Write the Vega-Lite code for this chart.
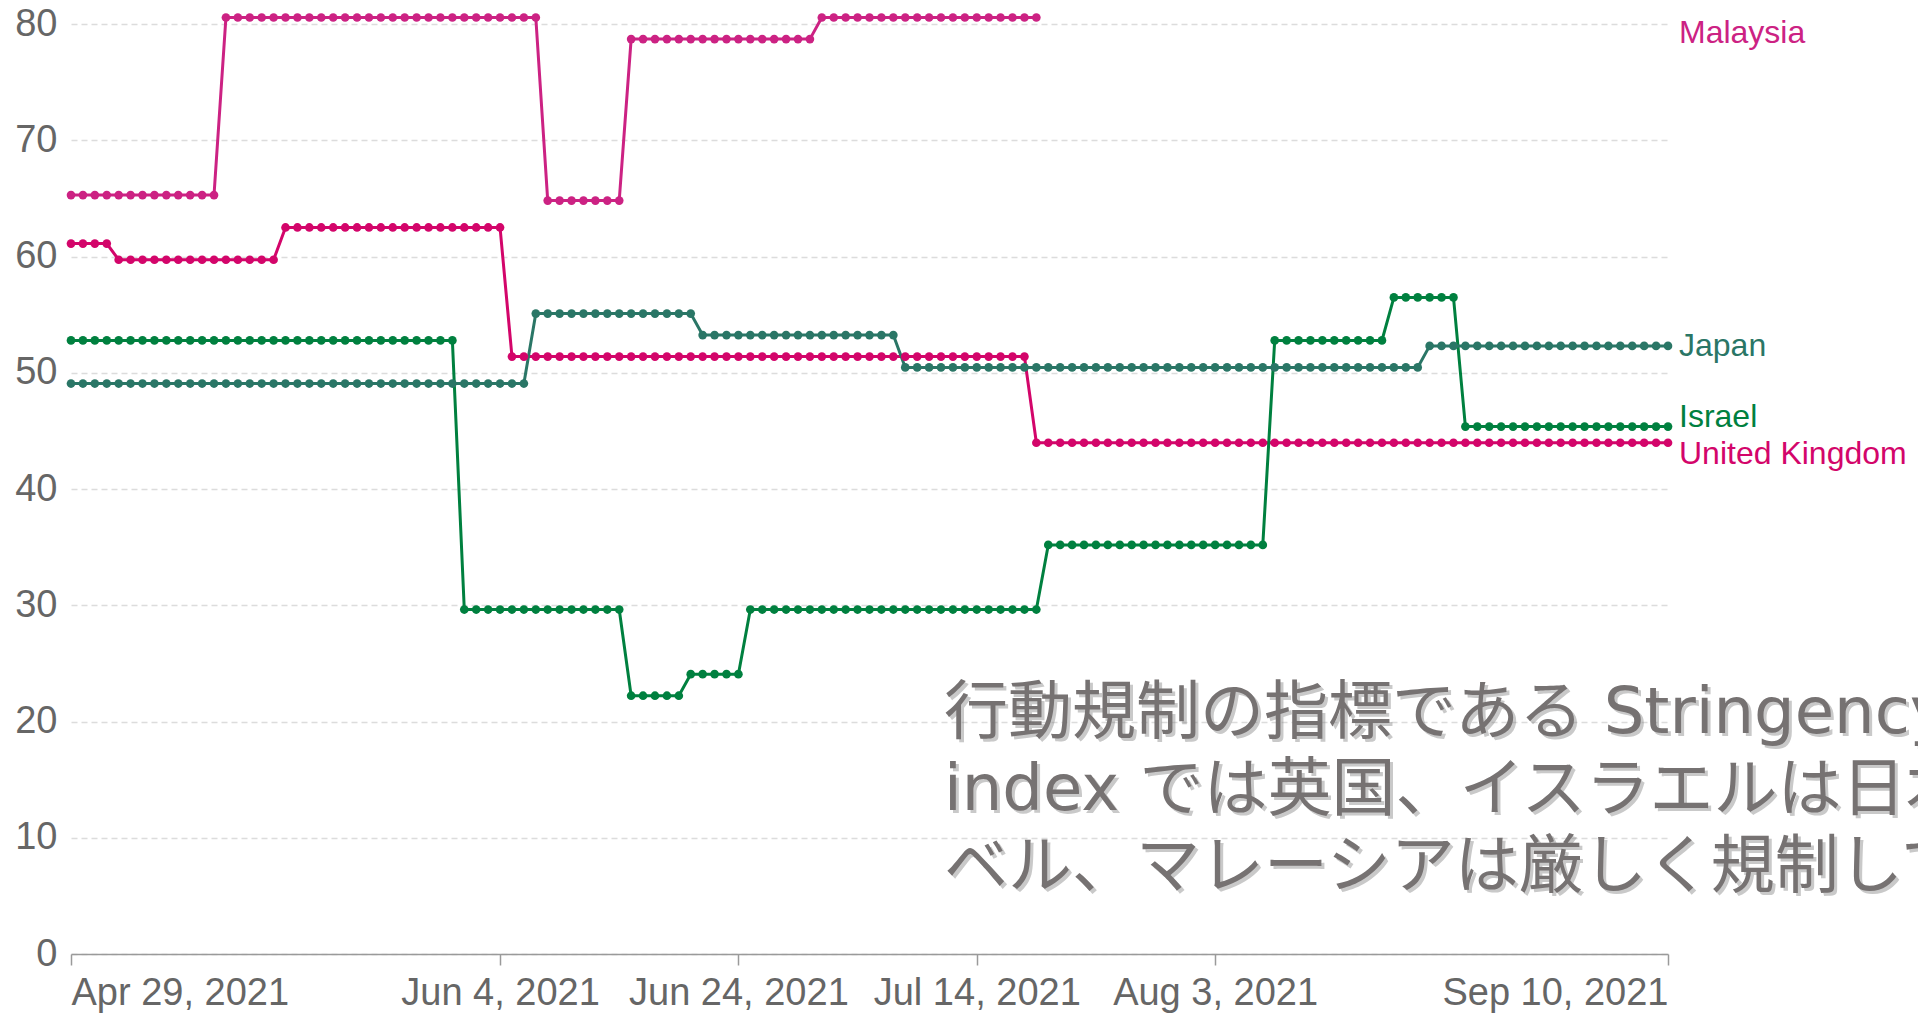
{
  "$schema": "https://vega.github.io/schema/vega-lite/v6.json",
  "autosize": {"type": "none"},
  "width": 1597,
  "height": 930,
  "padding": {"left": 71, "top": 24, "right": 250, "bottom": 59},
  "background": "white",
  "config": {"view": {"stroke": null}},
  "datasets": {
    "main": [
      {"d":"2021-04-29","Japan":49.07,"Israel":52.78,"United Kingdom":61.11,"Malaysia":65.28},
      {"d":"2021-04-30","Japan":49.07,"Israel":52.78,"United Kingdom":61.11,"Malaysia":65.28},
      {"d":"2021-05-01","Japan":49.07,"Israel":52.78,"United Kingdom":61.11,"Malaysia":65.28},
      {"d":"2021-05-02","Japan":49.07,"Israel":52.78,"United Kingdom":61.11,"Malaysia":65.28},
      {"d":"2021-05-03","Japan":49.07,"Israel":52.78,"United Kingdom":59.72,"Malaysia":65.28},
      {"d":"2021-05-04","Japan":49.07,"Israel":52.78,"United Kingdom":59.72,"Malaysia":65.28},
      {"d":"2021-05-05","Japan":49.07,"Israel":52.78,"United Kingdom":59.72,"Malaysia":65.28},
      {"d":"2021-05-06","Japan":49.07,"Israel":52.78,"United Kingdom":59.72,"Malaysia":65.28},
      {"d":"2021-05-07","Japan":49.07,"Israel":52.78,"United Kingdom":59.72,"Malaysia":65.28},
      {"d":"2021-05-08","Japan":49.07,"Israel":52.78,"United Kingdom":59.72,"Malaysia":65.28},
      {"d":"2021-05-09","Japan":49.07,"Israel":52.78,"United Kingdom":59.72,"Malaysia":65.28},
      {"d":"2021-05-10","Japan":49.07,"Israel":52.78,"United Kingdom":59.72,"Malaysia":65.28},
      {"d":"2021-05-11","Japan":49.07,"Israel":52.78,"United Kingdom":59.72,"Malaysia":65.28},
      {"d":"2021-05-12","Japan":49.07,"Israel":52.78,"United Kingdom":59.72,"Malaysia":80.56},
      {"d":"2021-05-13","Japan":49.07,"Israel":52.78,"United Kingdom":59.72,"Malaysia":80.56},
      {"d":"2021-05-14","Japan":49.07,"Israel":52.78,"United Kingdom":59.72,"Malaysia":80.56},
      {"d":"2021-05-15","Japan":49.07,"Israel":52.78,"United Kingdom":59.72,"Malaysia":80.56},
      {"d":"2021-05-16","Japan":49.07,"Israel":52.78,"United Kingdom":59.72,"Malaysia":80.56},
      {"d":"2021-05-17","Japan":49.07,"Israel":52.78,"United Kingdom":62.5,"Malaysia":80.56},
      {"d":"2021-05-18","Japan":49.07,"Israel":52.78,"United Kingdom":62.5,"Malaysia":80.56},
      {"d":"2021-05-19","Japan":49.07,"Israel":52.78,"United Kingdom":62.5,"Malaysia":80.56},
      {"d":"2021-05-20","Japan":49.07,"Israel":52.78,"United Kingdom":62.5,"Malaysia":80.56},
      {"d":"2021-05-21","Japan":49.07,"Israel":52.78,"United Kingdom":62.5,"Malaysia":80.56},
      {"d":"2021-05-22","Japan":49.07,"Israel":52.78,"United Kingdom":62.5,"Malaysia":80.56},
      {"d":"2021-05-23","Japan":49.07,"Israel":52.78,"United Kingdom":62.5,"Malaysia":80.56},
      {"d":"2021-05-24","Japan":49.07,"Israel":52.78,"United Kingdom":62.5,"Malaysia":80.56},
      {"d":"2021-05-25","Japan":49.07,"Israel":52.78,"United Kingdom":62.5,"Malaysia":80.56},
      {"d":"2021-05-26","Japan":49.07,"Israel":52.78,"United Kingdom":62.5,"Malaysia":80.56},
      {"d":"2021-05-27","Japan":49.07,"Israel":52.78,"United Kingdom":62.5,"Malaysia":80.56},
      {"d":"2021-05-28","Japan":49.07,"Israel":52.78,"United Kingdom":62.5,"Malaysia":80.56},
      {"d":"2021-05-29","Japan":49.07,"Israel":52.78,"United Kingdom":62.5,"Malaysia":80.56},
      {"d":"2021-05-30","Japan":49.07,"Israel":52.78,"United Kingdom":62.5,"Malaysia":80.56},
      {"d":"2021-05-31","Japan":49.07,"Israel":52.78,"United Kingdom":62.5,"Malaysia":80.56},
      {"d":"2021-06-01","Japan":49.07,"Israel":29.63,"United Kingdom":62.5,"Malaysia":80.56},
      {"d":"2021-06-02","Japan":49.07,"Israel":29.63,"United Kingdom":62.5,"Malaysia":80.56},
      {"d":"2021-06-03","Japan":49.07,"Israel":29.63,"United Kingdom":62.5,"Malaysia":80.56},
      {"d":"2021-06-04","Japan":49.07,"Israel":29.63,"United Kingdom":62.5,"Malaysia":80.56},
      {"d":"2021-06-05","Japan":49.07,"Israel":29.63,"United Kingdom":51.39,"Malaysia":80.56},
      {"d":"2021-06-06","Japan":49.07,"Israel":29.63,"United Kingdom":51.39,"Malaysia":80.56},
      {"d":"2021-06-07","Japan":55.09,"Israel":29.63,"United Kingdom":51.39,"Malaysia":80.56},
      {"d":"2021-06-08","Japan":55.09,"Israel":29.63,"United Kingdom":51.39,"Malaysia":64.81},
      {"d":"2021-06-09","Japan":55.09,"Israel":29.63,"United Kingdom":51.39,"Malaysia":64.81},
      {"d":"2021-06-10","Japan":55.09,"Israel":29.63,"United Kingdom":51.39,"Malaysia":64.81},
      {"d":"2021-06-11","Japan":55.09,"Israel":29.63,"United Kingdom":51.39,"Malaysia":64.81},
      {"d":"2021-06-12","Japan":55.09,"Israel":29.63,"United Kingdom":51.39,"Malaysia":64.81},
      {"d":"2021-06-13","Japan":55.09,"Israel":29.63,"United Kingdom":51.39,"Malaysia":64.81},
      {"d":"2021-06-14","Japan":55.09,"Israel":29.63,"United Kingdom":51.39,"Malaysia":64.81},
      {"d":"2021-06-15","Japan":55.09,"Israel":22.22,"United Kingdom":51.39,"Malaysia":78.7},
      {"d":"2021-06-16","Japan":55.09,"Israel":22.22,"United Kingdom":51.39,"Malaysia":78.7},
      {"d":"2021-06-17","Japan":55.09,"Israel":22.22,"United Kingdom":51.39,"Malaysia":78.7},
      {"d":"2021-06-18","Japan":55.09,"Israel":22.22,"United Kingdom":51.39,"Malaysia":78.7},
      {"d":"2021-06-19","Japan":55.09,"Israel":22.22,"United Kingdom":51.39,"Malaysia":78.7},
      {"d":"2021-06-20","Japan":55.09,"Israel":24.07,"United Kingdom":51.39,"Malaysia":78.7},
      {"d":"2021-06-21","Japan":53.24,"Israel":24.07,"United Kingdom":51.39,"Malaysia":78.7},
      {"d":"2021-06-22","Japan":53.24,"Israel":24.07,"United Kingdom":51.39,"Malaysia":78.7},
      {"d":"2021-06-23","Japan":53.24,"Israel":24.07,"United Kingdom":51.39,"Malaysia":78.7},
      {"d":"2021-06-24","Japan":53.24,"Israel":24.07,"United Kingdom":51.39,"Malaysia":78.7},
      {"d":"2021-06-25","Japan":53.24,"Israel":29.63,"United Kingdom":51.39,"Malaysia":78.7},
      {"d":"2021-06-26","Japan":53.24,"Israel":29.63,"United Kingdom":51.39,"Malaysia":78.7},
      {"d":"2021-06-27","Japan":53.24,"Israel":29.63,"United Kingdom":51.39,"Malaysia":78.7},
      {"d":"2021-06-28","Japan":53.24,"Israel":29.63,"United Kingdom":51.39,"Malaysia":78.7},
      {"d":"2021-06-29","Japan":53.24,"Israel":29.63,"United Kingdom":51.39,"Malaysia":78.7},
      {"d":"2021-06-30","Japan":53.24,"Israel":29.63,"United Kingdom":51.39,"Malaysia":78.7},
      {"d":"2021-07-01","Japan":53.24,"Israel":29.63,"United Kingdom":51.39,"Malaysia":80.56},
      {"d":"2021-07-02","Japan":53.24,"Israel":29.63,"United Kingdom":51.39,"Malaysia":80.56},
      {"d":"2021-07-03","Japan":53.24,"Israel":29.63,"United Kingdom":51.39,"Malaysia":80.56},
      {"d":"2021-07-04","Japan":53.24,"Israel":29.63,"United Kingdom":51.39,"Malaysia":80.56},
      {"d":"2021-07-05","Japan":53.24,"Israel":29.63,"United Kingdom":51.39,"Malaysia":80.56},
      {"d":"2021-07-06","Japan":53.24,"Israel":29.63,"United Kingdom":51.39,"Malaysia":80.56},
      {"d":"2021-07-07","Japan":53.24,"Israel":29.63,"United Kingdom":51.39,"Malaysia":80.56},
      {"d":"2021-07-08","Japan":50.46,"Israel":29.63,"United Kingdom":51.39,"Malaysia":80.56},
      {"d":"2021-07-09","Japan":50.46,"Israel":29.63,"United Kingdom":51.39,"Malaysia":80.56},
      {"d":"2021-07-10","Japan":50.46,"Israel":29.63,"United Kingdom":51.39,"Malaysia":80.56},
      {"d":"2021-07-11","Japan":50.46,"Israel":29.63,"United Kingdom":51.39,"Malaysia":80.56},
      {"d":"2021-07-12","Japan":50.46,"Israel":29.63,"United Kingdom":51.39,"Malaysia":80.56},
      {"d":"2021-07-13","Japan":50.46,"Israel":29.63,"United Kingdom":51.39,"Malaysia":80.56},
      {"d":"2021-07-14","Japan":50.46,"Israel":29.63,"United Kingdom":51.39,"Malaysia":80.56},
      {"d":"2021-07-15","Japan":50.46,"Israel":29.63,"United Kingdom":51.39,"Malaysia":80.56},
      {"d":"2021-07-16","Japan":50.46,"Israel":29.63,"United Kingdom":51.39,"Malaysia":80.56},
      {"d":"2021-07-17","Japan":50.46,"Israel":29.63,"United Kingdom":51.39,"Malaysia":80.56},
      {"d":"2021-07-18","Japan":50.46,"Israel":29.63,"United Kingdom":51.39,"Malaysia":80.56},
      {"d":"2021-07-19","Japan":50.46,"Israel":29.63,"United Kingdom":43.98,"Malaysia":80.56},
      {"d":"2021-07-20","Japan":50.46,"Israel":35.19,"United Kingdom":43.98},
      {"d":"2021-07-21","Japan":50.46,"Israel":35.19,"United Kingdom":43.98},
      {"d":"2021-07-22","Japan":50.46,"Israel":35.19,"United Kingdom":43.98},
      {"d":"2021-07-23","Japan":50.46,"Israel":35.19,"United Kingdom":43.98},
      {"d":"2021-07-24","Japan":50.46,"Israel":35.19,"United Kingdom":43.98},
      {"d":"2021-07-25","Japan":50.46,"Israel":35.19,"United Kingdom":43.98},
      {"d":"2021-07-26","Japan":50.46,"Israel":35.19,"United Kingdom":43.98},
      {"d":"2021-07-27","Japan":50.46,"Israel":35.19,"United Kingdom":43.98},
      {"d":"2021-07-28","Japan":50.46,"Israel":35.19,"United Kingdom":43.98},
      {"d":"2021-07-29","Japan":50.46,"Israel":35.19,"United Kingdom":43.98},
      {"d":"2021-07-30","Japan":50.46,"Israel":35.19,"United Kingdom":43.98},
      {"d":"2021-07-31","Japan":50.46,"Israel":35.19,"United Kingdom":43.98},
      {"d":"2021-08-01","Japan":50.46,"Israel":35.19,"United Kingdom":43.98},
      {"d":"2021-08-02","Japan":50.46,"Israel":35.19,"United Kingdom":43.98},
      {"d":"2021-08-03","Japan":50.46,"Israel":35.19,"United Kingdom":43.98},
      {"d":"2021-08-04","Japan":50.46,"Israel":35.19,"United Kingdom":43.98},
      {"d":"2021-08-05","Japan":50.46,"Israel":35.19,"United Kingdom":43.98},
      {"d":"2021-08-06","Japan":50.46,"Israel":35.19,"United Kingdom":43.98},
      {"d":"2021-08-07","Japan":50.46,"Israel":35.19,"United Kingdom":43.98},
      {"d":"2021-08-08","Japan":50.46,"Israel":52.78,"United Kingdom":43.98},
      {"d":"2021-08-09","Japan":50.46,"Israel":52.78,"United Kingdom":43.98},
      {"d":"2021-08-10","Japan":50.46,"Israel":52.78,"United Kingdom":43.98},
      {"d":"2021-08-11","Japan":50.46,"Israel":52.78,"United Kingdom":43.98},
      {"d":"2021-08-12","Japan":50.46,"Israel":52.78,"United Kingdom":43.98},
      {"d":"2021-08-13","Japan":50.46,"Israel":52.78,"United Kingdom":43.98},
      {"d":"2021-08-14","Japan":50.46,"Israel":52.78,"United Kingdom":43.98},
      {"d":"2021-08-15","Japan":50.46,"Israel":52.78,"United Kingdom":43.98},
      {"d":"2021-08-16","Japan":50.46,"Israel":52.78,"United Kingdom":43.98},
      {"d":"2021-08-17","Japan":50.46,"Israel":52.78,"United Kingdom":43.98},
      {"d":"2021-08-18","Japan":50.46,"Israel":56.48,"United Kingdom":43.98},
      {"d":"2021-08-19","Japan":50.46,"Israel":56.48,"United Kingdom":43.98},
      {"d":"2021-08-20","Japan":50.46,"Israel":56.48,"United Kingdom":43.98},
      {"d":"2021-08-21","Japan":52.31,"Israel":56.48,"United Kingdom":43.98},
      {"d":"2021-08-22","Japan":52.31,"Israel":56.48,"United Kingdom":43.98},
      {"d":"2021-08-23","Japan":52.31,"Israel":56.48,"United Kingdom":43.98},
      {"d":"2021-08-24","Japan":52.31,"Israel":45.37,"United Kingdom":43.98},
      {"d":"2021-08-25","Japan":52.31,"Israel":45.37,"United Kingdom":43.98},
      {"d":"2021-08-26","Japan":52.31,"Israel":45.37,"United Kingdom":43.98},
      {"d":"2021-08-27","Japan":52.31,"Israel":45.37,"United Kingdom":43.98},
      {"d":"2021-08-28","Japan":52.31,"Israel":45.37,"United Kingdom":43.98},
      {"d":"2021-08-29","Japan":52.31,"Israel":45.37,"United Kingdom":43.98},
      {"d":"2021-08-30","Japan":52.31,"Israel":45.37,"United Kingdom":43.98},
      {"d":"2021-08-31","Japan":52.31,"Israel":45.37,"United Kingdom":43.98},
      {"d":"2021-09-01","Japan":52.31,"Israel":45.37,"United Kingdom":43.98},
      {"d":"2021-09-02","Japan":52.31,"Israel":45.37,"United Kingdom":43.98},
      {"d":"2021-09-03","Japan":52.31,"Israel":45.37,"United Kingdom":43.98},
      {"d":"2021-09-04","Japan":52.31,"Israel":45.37,"United Kingdom":43.98},
      {"d":"2021-09-05","Japan":52.31,"Israel":45.37,"United Kingdom":43.98},
      {"d":"2021-09-06","Japan":52.31,"Israel":45.37,"United Kingdom":43.98},
      {"d":"2021-09-07","Japan":52.31,"Israel":45.37,"United Kingdom":43.98},
      {"d":"2021-09-08","Japan":52.31,"Israel":45.37,"United Kingdom":43.98},
      {"d":"2021-09-09","Japan":52.31,"Israel":45.37,"United Kingdom":43.98},
      {"d":"2021-09-10","Japan":52.31,"Israel":45.37,"United Kingdom":43.98}
    ],
    "labels": [
      {"country":"Malaysia","d":"2021-09-10","v":80.56},
      {"country":"Japan","d":"2021-09-10","v":52.31},
      {"country":"Israel","d":"2021-09-10","v":45.37},
      {"country":"United Kingdom","d":"2021-09-10","v":43.98}
    ],
    "note": [
      {"d":"2021-07-11","v":19.0,"t":["行動規制の指標である Stringency","index では英国、イスラエルは日本と同レ","ベル、マレーシアは厳しく規制している"]}
    ]
  },
  "encoding": {
    "x": {
      "field": "d",
      "type": "temporal",
      "title": null,
      "scale": {
        "type": "utc",
        "nice": false,
        "domain": [
          {"year": 2021, "month": 4, "date": 29, "utc": true},
          {"year": 2021, "month": 9, "date": 10, "utc": true}
        ]
      },
      "axis": {
        "values": [
          {"year": 2021, "month": 4, "date": 29, "utc": true},
          {"year": 2021, "month": 6, "date": 4, "utc": true},
          {"year": 2021, "month": 6, "date": 24, "utc": true},
          {"year": 2021, "month": 7, "date": 14, "utc": true},
          {"year": 2021, "month": 8, "date": 3, "utc": true},
          {"year": 2021, "month": 9, "date": 10, "utc": true}
        ],
        "labelExpr": "utcFormat(datum.value, '%b %-d, %Y')",
        "labelLimit": 500,
        "grid": false,
        "domainColor": "#9a9a9a",
        "domainWidth": 1.5,
        "tickColor": "#9a9a9a",
        "tickWidth": 1.5,
        "tickSize": 11,
        "labelFont": "Liberation Sans",
        "labelFontSize": 38,
        "labelColor": "#666666",
        "labelPadding": 9,
        "labelFlush": true,
        "labelOverlap": false
      }
    },
    "y": {
      "field": "v",
      "type": "quantitative",
      "title": null,
      "scale": {"domain": [0, 80], "nice": false, "zero": true},
      "axis": {
        "values": [0, 10, 20, 30, 40, 50, 60, 70, 80],
        "domain": false,
        "ticks": false,
        "grid": true,
        "gridColor": "#dcdcdc",
        "gridDash": [6, 4],
        "gridWidth": 1.5,
        "labelFont": "Liberation Sans",
        "labelFontSize": 38,
        "labelColor": "#666666",
        "labelPadding": 14
      }
    }
  },
  "layer": [
    {
      "data": {"name": "main"},
      "transform": [
        {"fold": ["Malaysia", "United Kingdom", "Israel", "Japan"], "as": ["country", "v"]},
        {"filter": "isValid(datum.v)"}
      ],
      "mark": {"type": "line", "strokeWidth": 3, "clip": false},
      "encoding": {
        "color": {
          "field": "country",
          "type": "nominal",
          "legend": null,
          "scale": {
            "domain": ["Malaysia", "United Kingdom", "Israel", "Japan"],
            "range": ["#CC2283", "#D3056A", "#00803F", "#2A7666"]
          }
        }
      }
    },
    {
      "data": {"name": "main"},
      "transform": [
        {"fold": ["Malaysia", "United Kingdom", "Israel", "Japan"], "as": ["country", "v"]},
        {"filter": "isValid(datum.v)"}
      ],
      "mark": {"type": "point", "filled": true, "size": 75, "opacity": 1, "clip": false},
      "encoding": {
        "color": {
          "field": "country",
          "type": "nominal",
          "legend": null,
          "scale": {
            "domain": ["Malaysia", "United Kingdom", "Israel", "Japan"],
            "range": ["#CC2283", "#D3056A", "#00803F", "#2A7666"]
          }
        }
      }
    },
    {
      "data": {"name": "labels"},
      "transform": [{"filter": "datum.country == 'Malaysia'"}],
      "mark": {"type": "text", "align": "left", "baseline": "middle", "dx": 11, "dy": 16, "font": "Liberation Sans", "fontSize": 32, "color": "#CC2283"},
      "encoding": {"text": {"field": "country"}}
    },
    {
      "data": {"name": "labels"},
      "transform": [{"filter": "datum.country == 'Japan'"}],
      "mark": {"type": "text", "align": "left", "baseline": "middle", "dx": 11, "dy": 0, "font": "Liberation Sans", "fontSize": 32, "color": "#2A7666"},
      "encoding": {"text": {"field": "country"}}
    },
    {
      "data": {"name": "labels"},
      "transform": [{"filter": "datum.country == 'Israel'"}],
      "mark": {"type": "text", "align": "left", "baseline": "middle", "dx": 11, "dy": -10, "font": "Liberation Sans", "fontSize": 32, "color": "#00803F"},
      "encoding": {"text": {"field": "country"}}
    },
    {
      "data": {"name": "labels"},
      "transform": [{"filter": "datum.country == 'United Kingdom'"}],
      "mark": {"type": "text", "align": "left", "baseline": "middle", "dx": 11, "dy": 11, "font": "Liberation Sans", "fontSize": 32, "color": "#D3056A"},
      "encoding": {"text": {"field": "country"}}
    },
    {
      "data": {"name": "note"},
      "mark": {"type": "text", "align": "left", "baseline": "alphabetic", "dx": 6, "dy": 3, "font": "DejaVu Sans, Noto Sans CJK JP", "fontSize": 64, "lineHeight": 77, "color": "#888888", "opacity": 0.45},
      "encoding": {"text": {"field": "t"}}
    },
    {
      "data": {"name": "note"},
      "mark": {"type": "text", "align": "left", "baseline": "alphabetic", "dx": 3, "dy": 0, "font": "DejaVu Sans, Noto Sans CJK JP", "fontSize": 64, "lineHeight": 77, "color": "#767272"},
      "encoding": {"text": {"field": "t"}}
    }
  ]
}
